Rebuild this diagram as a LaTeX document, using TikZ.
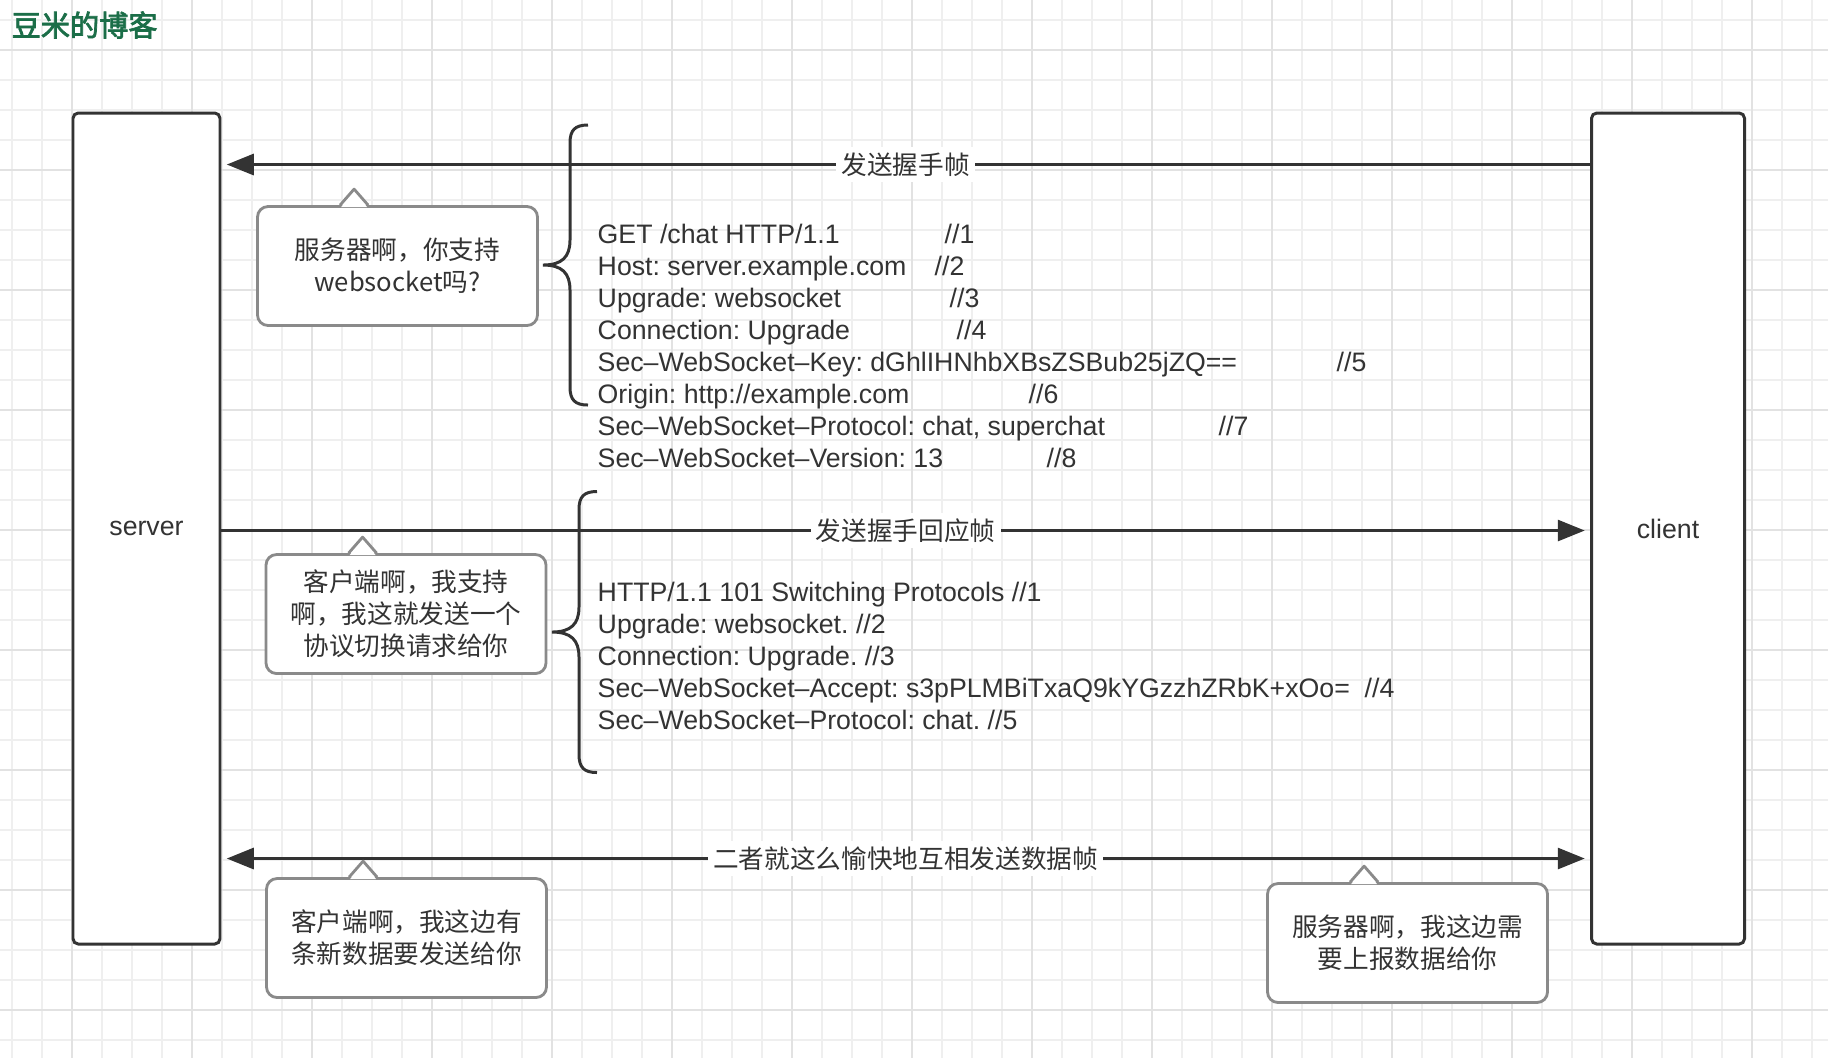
\documentclass[tikz,border=0pt]{standalone}
\usepackage{fontspec}
\setmainfont{Liberation Sans}
\newfontfamily\cjk{Noto Sans CJK SC}
\newfontfamily\cjktit[FakeBold=2.5]{Noto Sans CJK SC}
\usepackage{xcolor}
\usepackage{tikz}
\usetikzlibrary{positioning,arrows.meta,calc}
\definecolor{tinta}{HTML}{333333}
\definecolor{gris}{HTML}{8A8A8A}
\definecolor{verde}{HTML}{1B6E48}
\definecolor{malla}{HTML}{EFEFEF}
\definecolor{mallaf}{HTML}{E2E2E2}
\frenchspacing

\begin{document}
\begin{tikzpicture}[x=1cm, y=-1cm, font=\fontsize{7.6}{9.1}\selectfont,
  caja/.style={draw=tinta, fill=white, line width=0.85pt, rounded corners=1.5pt, inner sep=0pt, text=tinta},
  globo/.style={draw=gris, fill=white, line width=0.8pt, rounded corners=3pt, align=center, text=tinta,
                minimum width=2.80cm, minimum height=1.19cm, font=\cjk\fontsize{7.3}{9.1}\selectfont},
  flecha/.style={draw=tinta, line width=0.85pt, shorten >=1.5pt},
  rotulo/.style={fill=white, inner sep=1.5pt, text=tinta, font=\cjk\fontsize{7.3}{9.1}\selectfont},
  linea/.style={anchor=base west, inner sep=0pt, text=tinta}]
  \useasboundingbox (0,0) rectangle (18.28,10.58);
  \fill[white] (0,0) rectangle (18.28,10.58);
  % grid paper
  \foreach \k in {0,...,60} \draw[malla, line width=0.6pt] (0.12+0.3*\k,0) -- (0.12+0.3*\k,10.58);
  \foreach \k in {0,...,34} \draw[malla, line width=0.6pt] (0,0.20+0.3*\k) -- (18.28,0.20+0.3*\k);
  \foreach \k in {0,...,14} \draw[mallaf, line width=0.6pt] (0.72+1.2*\k,0) -- (0.72+1.2*\k,10.58);
  \foreach \k in {0,...,8} \draw[mallaf, line width=0.6pt] (0,0.50+1.2*\k) -- (18.28,0.50+1.2*\k);

  \node[anchor=west, inner sep=0pt, text=verde, font=\cjktit\fontsize{8.3}{10}\selectfont] (titulo) at (0.11,0.25) {豆米的博客};

  % endpoints
  \node[caja, minimum width=1.47cm, minimum height=8.31cm] (srv) at (1.465,5.285) {server};
  \node[caja, minimum width=1.53cm, minimum height=8.31cm] (cli) at (16.68,5.285) {client};

  \newcommand{\bocadillo}[4]{%
    \node[globo] (#1) at (#2,#3) {#4};
    \fill[white] ([xshift=0.85cm,yshift=-0.02cm]#1.north west) -- ([xshift=0.98cm,yshift=0.15cm]#1.north west)
      -- ([xshift=1.11cm,yshift=-0.02cm]#1.north west) -- cycle;
    \draw[gris, line width=0.8pt, line join=round] ([xshift=0.84cm]#1.north west)
      -- ([xshift=0.98cm,yshift=0.16cm]#1.north west) -- ([xshift=1.12cm]#1.north west);}
  \newcommand{\llave}[4]{\draw[tinta, line width=0.85pt]
    (#3+0.18,#2-#4) .. controls (#3+0.05,#2-#4) and (#3,#2-#4+0.05) .. (#3,#2-#4+0.18)
    -- (#3,#2-0.25) .. controls (#3,#2-0.08) and (#3-0.08,#2) .. (#1,#2)
    .. controls (#3-0.08,#2) and (#3,#2+0.08) .. (#3,#2+0.25)
    -- (#3,#2+#4-0.18) .. controls (#3,#2+#4-0.05) and (#3+0.05,#2+#4) .. (#3+0.18,#2+#4);}

  % messages
  \draw[flecha, -{Triangle[length=0.27cm,width=0.21cm]}] ([yshift=-0.53cm]cli.north west) -- ([yshift=-0.53cm]srv.north east)
    node[midway, rotulo] (m1) {发送握手帧};
  \draw[flecha, -{Triangle[length=0.27cm,width=0.21cm]}] ([yshift=-0.02cm]srv.east) -- ([yshift=-0.02cm]cli.west)
    node[midway, rotulo] (m2) {发送握手回应帧};
  \draw[flecha, shorten <=1.5pt, {Triangle[length=0.27cm,width=0.21cm]}-{Triangle[length=0.27cm,width=0.21cm]}]
    ([yshift=0.87cm]srv.south east) -- ([yshift=0.87cm]cli.south west)
    node[midway, rotulo] (m3) {二者就这么愉快地互相发送数据帧};

  \bocadillo{b1}{3.975}{2.66}{服务器啊，你支持\\websocket吗?}
  \bocadillo{b2}{4.06}{6.14}{客户端啊，我支持\\啊，我这就发送一个\\协议切换请求给你}
  \bocadillo{b3}{4.065}{9.38}{客户端啊，我这边有\\条新数据要发送给你}
  \bocadillo{b4}{14.075}{9.43}{服务器啊，我这边需\\要上报数据给你}

  \llave{5.43}{2.65}{5.70}{1.40}
  \llave{5.52}{6.32}{5.79}{1.405}

  % handshake request
  \foreach \i/\t/\c in {1/{GET /chat HTTP/1.1}/9.44, 2/{Host: server.example.com}/9.34,
                        3/{Upgrade: websocket}/9.49, 4/{Connection: Upgrade}/9.56,
                        5/{Sec–WebSocket–Key: dGhlIHNhbXBsZSBub25jZQ==}/13.36, 6/{Origin: http://example.com}/10.28,
                        7/{Sec–WebSocket–Protocol: chat, superchat}/12.18, 8/{Sec–WebSocket–Version: 13}/10.46}{
    \node[linea] (req\i) at (5.97,2.109+0.321*\i) {\t};
    \node[linea] (reqc\i) at (\c,2.109+0.321*\i) {//\i};
  }
  % handshake response
  \foreach \i/\t in {1/{HTTP/1.1 101 Switching Protocols //1}, 2/{Upgrade: websocket. //2},
                     3/{Connection: Upgrade. //3}, 4/{Sec–WebSocket–Accept: s3pPLMBiTxaQ9kYGzzhZRbK+xOo=\ \ //4},
                     5/{Sec–WebSocket–Protocol: chat. //5}}{
    \node[linea] (rsp\i) at (5.97,5.69+0.32*\i) {\t};
  }
\end{tikzpicture}
\end{document}
